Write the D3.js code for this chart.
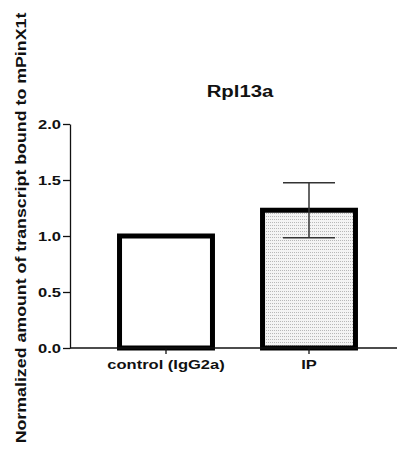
<!DOCTYPE html>
<html>
<head>
<meta charset="utf-8">
<script src="https://cdn.jsdelivr.net/npm/d3@7"></script>
<style>
    body { margin: 0; background: #fff; }
    text { font-family: "Liberation Sans", Arial, sans-serif; font-weight: bold; fill: #111; }
</style>
</head>
<body>
<div id="chart"></div>
<script>
const categories = ["control (IgG2a)", "IP"];
const means = [1.0, 1.23];
const errors = [0, 0.245];
const yTicks = [0.0, 0.5, 1.0, 1.5, 2.0];

const width = 397, height = 459;
const stretch = 1.27; // text in the original is drawn wider than normal

const svg = d3.select("#chart").append("svg")
    .attr("width", width)
    .attr("height", height);

const defs = svg.append("defs");
const pat = defs.append("pattern")
    .attr("id", "dots")
    .attr("patternUnits", "userSpaceOnUse")
    .attr("width", 2)
    .attr("height", 3);
pat.append("rect").attr("width", 2).attr("height", 3).attr("fill", "#f4f4f4");
pat.append("rect").attr("x", 0).attr("y", 0).attr("width", 1).attr("height", 1).attr("fill", "#b8b8b8");

const x = d3.scaleBand()
    .domain(categories)
    .range([94.5, 380.5])
    .paddingInner(0.35)
    .paddingOuter(0.175);

const y = d3.scaleLinear()
    .domain([0, 2])
    .range([348, 124]);

function widen(sel){
    sel.each(function(){
        const w = this.getComputedTextLength();
        d3.select(this)
            .attr("textLength", w * stretch)
            .attr("lengthAdjust", "spacingAndGlyphs");
    });
}

// y axis
const yAxis = svg.append("g")
    .attr("transform", "translate(70,0)")
    .call(d3.axisLeft(y).tickValues(yTicks).tickFormat(d3.format(".1f")).tickSize(7).tickSizeOuter(0));
yAxis.select(".domain").attr("stroke", "#111").attr("stroke-width", 1.3);
yAxis.selectAll(".tick line").attr("stroke", "#111").attr("stroke-width", 1.3);
yAxis.selectAll("text").attr("font-size", 13).attr("font-family", "Liberation Sans, Arial, sans-serif")
    .attr("font-weight", "bold").attr("fill", "#111").attr("x", -9)
    .call(widen);

// bars
const fills = ["#fff", "url(#dots)"];
svg.append("g").selectAll("rect")
    .data(categories)
    .enter()
    .append("rect")
        .attr("x", d => x(d))
        .attr("width", x.bandwidth())
        .attr("y", (d, i) => y(means[i]))
        .attr("height", (d, i) => y(0) - y(means[i]))
        .attr("fill", (d, i) => fills[i])
        .attr("stroke", "#000")
        .attr("stroke-width", 5);

// error bars
const capW = 26;
const eb = svg.append("g").selectAll("g")
    .data(categories.filter((d, i) => errors[i] > 0))
    .enter()
    .append("g")
        .attr("stroke", "#333")
        .attr("stroke-width", 1.5);
eb.append("line")
    .attr("x1", d => x(d) + x.bandwidth() / 2)
    .attr("x2", d => x(d) + x.bandwidth() / 2)
    .attr("y1", d => { const i = categories.indexOf(d); return y(means[i] + errors[i]); })
    .attr("y2", d => { const i = categories.indexOf(d); return y(means[i] - errors[i]); });
eb.selectAll(".cap")
    .data(d => { const i = categories.indexOf(d); return [[d, means[i] + errors[i]], [d, means[i] - errors[i]]]; })
    .enter()
    .append("line")
        .attr("x1", d => x(d[0]) + x.bandwidth() / 2 - capW)
        .attr("x2", d => x(d[0]) + x.bandwidth() / 2 + capW)
        .attr("y1", d => y(d[1]))
        .attr("y2", d => y(d[1]));

// x axis
const xAxis = svg.append("g")
    .attr("transform", `translate(0,${y(0)})`)
    .call(d3.axisBottom(x).tickSize(6).tickSizeOuter(0));
xAxis.select(".domain").attr("d", `M70,0H${width}`).attr("stroke", "#111").attr("stroke-width", 1.3);
xAxis.selectAll(".tick line").attr("stroke", "#111").attr("stroke-width", 1.3);
xAxis.selectAll("text").attr("font-size", 13).attr("font-family", "Liberation Sans, Arial, sans-serif")
    .attr("font-weight", "bold").attr("fill", "#111").attr("y", 12)
    .call(widen);

// title
svg.append("text")
    .attr("x", 240)
    .attr("y", 97)
    .attr("text-anchor", "middle")
    .attr("font-size", 16)
    .text("Rpl13a")
    .call(widen);

// y label
svg.append("text")
    .attr("transform", "translate(26,228) rotate(-90)")
    .attr("text-anchor", "middle")
    .attr("font-size", 14)
    .text("Normalized amount of transcript bound to mPinX1t")
    .call(widen);
</script>
</body>
</html>
